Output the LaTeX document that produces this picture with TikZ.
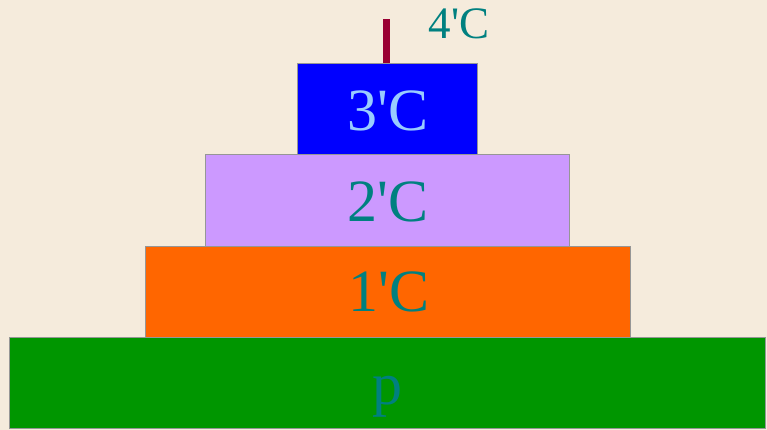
\documentclass[tikz,border=0pt]{standalone}
\usepackage{fontspec}
\setmainfont{Liberation Serif}
\definecolor{bg}{RGB}{245,235,220}
\definecolor{teal1}{RGB}{0,128,128}
\definecolor{lblue}{RGB}{153,204,255}
\definecolor{gr}{RGB}{0,150,0}
\definecolor{orng}{RGB}{255,102,0}
\definecolor{purp}{RGB}{204,153,255}
\definecolor{blu}{RGB}{0,0,255}
\definecolor{stick}{RGB}{153,0,51}
\definecolor{edge}{RGB}{150,150,150}
\begin{document}
\begin{tikzpicture}[x=1pt,y=-1pt,
  layer/.style={draw=edge,line width=1pt},
  lbl/.style={text=teal1,font=\fontsize{60}{60}\selectfont,inner sep=0pt}]
\fill[bg] (0,0) rectangle (767,430);
\useasboundingbox (0,0) rectangle (767,430);
\fill[stick] (383,19) rectangle (390,64);
\draw[layer,fill=gr] (9,337) rectangle (765,428);
\draw[layer,fill=orng] (145,246) rectangle (630,337);
\draw[layer,fill=purp] (205,155) rectangle (569,246);
\draw[layer,fill=blu] (297,64) rectangle (477,155);
\node[lbl] (p) at (387,397) {p};
\node[lbl] (c1) at (389,292) {1\textquotesingle C};
\node[lbl] (c2) at (388,202) {2\textquotesingle C};
\node[lbl,text=lblue] (c3) at (388,111) {3\textquotesingle C};
\node[lbl,font=\fontsize{45}{45}\selectfont] (c4) at (459,24) {4\textquotesingle C};
\end{tikzpicture}
\end{document}
